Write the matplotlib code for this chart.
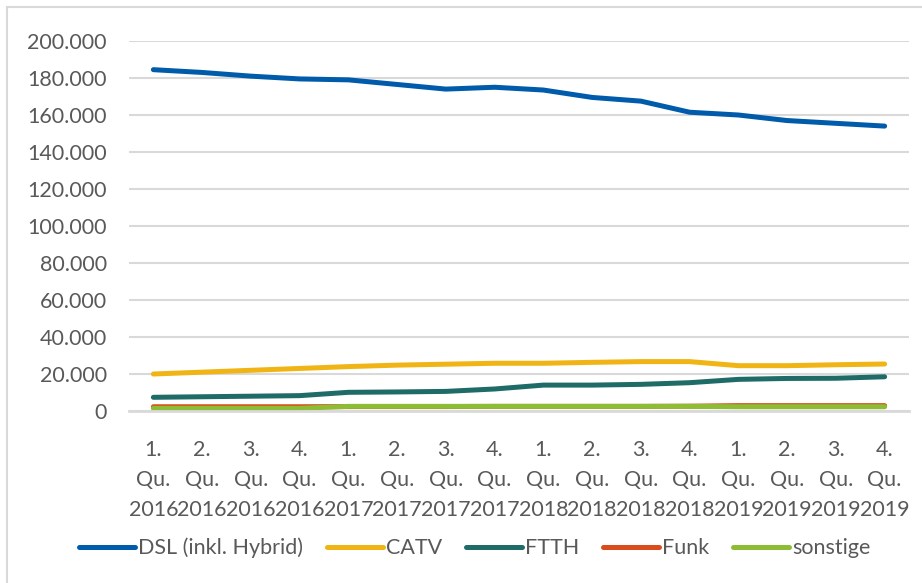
import numpy as np
import matplotlib
matplotlib.use('Agg')
import matplotlib.pyplot as plt
from matplotlib.patches import Rectangle
from matplotlib.ticker import FuncFormatter

# --- Data ---
quarters = ["1.", "2.", "3.", "4."] * 4
years = ["2016"] * 4 + ["2017"] * 4 + ["2018"] * 4 + ["2019"] * 4
labels = [q + "\nQu.\n" + y for q, y in zip(quarters, years)]

dsl = [184500, 183000, 181000, 179500, 179000, 176500, 174000, 175000,
       173500, 169500, 167500, 161500, 160000, 157000, 155500, 154000]
catv = [20000, 21000, 22000, 23000, 24000, 24800, 25300, 25800,
        25800, 26300, 26700, 26700, 24500, 24500, 25000, 25400]
ftth = [7400, 7700, 8000, 8300, 10100, 10300, 10600, 11900,
        14000, 14000, 14400, 15300, 17100, 17600, 17700, 18500]
funk = [2300, 2300, 2300, 2300, 2400, 2400, 2400, 2500,
        2500, 2500, 2500, 2600, 2900, 2900, 2900, 2900]
sonstige = [1450, 1450, 1450, 1450, 2500, 2500, 2500, 2500,
            2500, 2500, 2500, 2500, 2300, 2300, 2300, 2300]

series = [("DSL (inkl. Hybrid)", dsl, "#005BAA"),
          ("CATV", catv, "#F0B514"),
          ("FTTH", ftth, "#1F6B67"),
          ("Funk", funk, "#DB4B1C"),
          ("sonstige", sonstige, "#8CBD34")]

plt.rcParams['font.family'] = ['Lato', 'DejaVu Sans']
txt_col = "#595959"
fs = 15.5

fig = plt.figure(figsize=(9.22, 5.83), dpi=100)
ax = fig.add_axes([129/922, 1 - 411/583, 780/922, 370/583])

# chart border (Excel-like frame)
fig.patches.append(Rectangle((7/922, -0.1), 1.2, 1 - 7/583 + 0.1,
                             transform=fig.transFigure, fill=False,
                             edgecolor="#D9D9D9", linewidth=1.5))

x = np.arange(len(labels))
for name, vals, col in series:
    ax.plot(x, vals, color=col, linewidth=3.6, solid_capstyle='round',
            solid_joinstyle='round', label=name)

ax.set_xlim(-0.5, len(labels) - 0.5)
ax.set_ylim(0, 200000)
ax.set_yticks(np.arange(0, 200001, 20000))
ax.yaxis.set_major_formatter(FuncFormatter(lambda v, p: f"{int(v):,}".replace(",", ".")))
ax.set_xticks(x)
ax.set_xticklabels(labels, linespacing=1.63)

ax.grid(axis='y', color="#D9D9D9", linewidth=1.5)
ax.set_axisbelow(True)
for s in ["top", "right", "left"]:
    ax.spines[s].set_visible(False)
ax.spines["bottom"].set_color("#D9D9D9")
ax.spines["bottom"].set_linewidth(2)
ax.tick_params(axis='both', length=0, labelsize=fs, colors=txt_col)
ax.tick_params(axis='y', pad=16)
ax.tick_params(axis='x', pad=21)

fig.legend(loc='center', bbox_to_anchor=(0.515, 1 - 548/583), ncol=5, frameon=False,
           fontsize=fs, labelcolor=txt_col, handlelength=2.6, handletextpad=0.15,
           columnspacing=1.1)

fig.savefig("out.png", dpi=100)
